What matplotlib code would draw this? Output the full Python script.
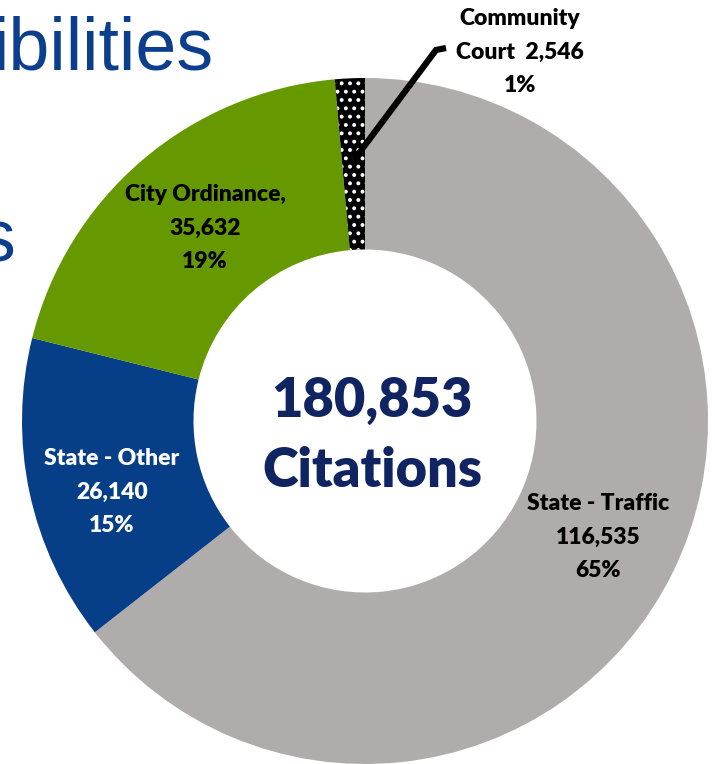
import numpy as np
import matplotlib.pyplot as plt

# citation counts by category (clockwise from 12 o'clock)
categories = ['State - Traffic', 'State - Other', 'City Ordinance,', 'Community\nCourt ']
counts = [116535, 26140, 35632, 2546]
percents = ['65%', '15%', '19%', '1%']
colors = ['#afacab', '#063f87', '#669900', 'black']
total_label = '180,853\nCitations'

FONT = 'Lato'
W, H = 715, 764
CX, CY, R = 365, 421, 343   # donut centre and radius in pixels


def px(x, y):
    # pixel position (from top-left) -> data coordinates
    return (x - CX) / R, (CY - y) / R


def main():
    plt.rcParams['hatch.linewidth'] = 1.6
    fig = plt.figure(figsize=(W / 100, H / 100), dpi=100)
    ax = fig.add_axes([0, 0, 1, 1])

    wedges, _ = ax.pie(counts, colors=colors, startangle=90, counterclock=False,
                       radius=1.0, wedgeprops=dict(width=0.5, linewidth=0))
    wedges[3].set_hatch('..')
    wedges[3].set_edgecolor('white')
    wedges[3].set_linewidth(0)

    ax.set_xlim(-CX / R, (W - CX) / R)
    ax.set_ylim(-(H - CY) / R, CY / R)
    ax.set_aspect('equal')
    ax.axis('off')

    # bits of the slide title peeking in behind the chart
    x, y = px(213, 70)
    ax.text(x, y, 'ibilities', ha='right', va='baseline', fontsize=53,
            family='Liberation Sans', color='#0b3f8e', zorder=0)
    x, y = px(16, 262)
    ax.text(x, y, 's', ha='right', va='baseline', fontsize=53,
            family='Liberation Sans', color='#0b3f8e', zorder=0)

    # centre total
    x, y = px(372, 436)
    ax.text(x, y, total_label, ha='center', va='center', fontsize=39,
            fontweight='heavy', family=FONT, color='#0f2461', linespacing=1.5)

    # slice labels
    label_pos = [(598, 537), (112, 492), (205, 228), (520, 52)]
    label_color = ['black', 'white', 'black', 'black']
    for i in range(len(counts)):
        if i == 3:
            txt = categories[i] + ' {:,}\n{}'.format(counts[i], percents[i])
        else:
            txt = '{}\n{:,}\n{}'.format(categories[i], counts[i], percents[i])
        x, y = px(*label_pos[i])
        ax.text(x, y, txt, ha='center', va='center', fontsize=16.5,
                fontweight='heavy', family=FONT, color=label_color[i], linespacing=1.75)

    # leader line for the small slice
    theta = np.deg2rad((wedges[3].theta1 + wedges[3].theta2) / 2)
    sx, sy = 0.76 * np.cos(theta), 0.76 * np.sin(theta)
    ex, ey = px(436, 50)
    fx, fy = px(446, 48)
    ax.plot([sx, ex, fx], [sy, ey, fy], color='black', lw=4.5, solid_joinstyle='miter',
            solid_capstyle='butt')

    fig.savefig('out.png', dpi=100)


if __name__ == "__main__":
    main()
